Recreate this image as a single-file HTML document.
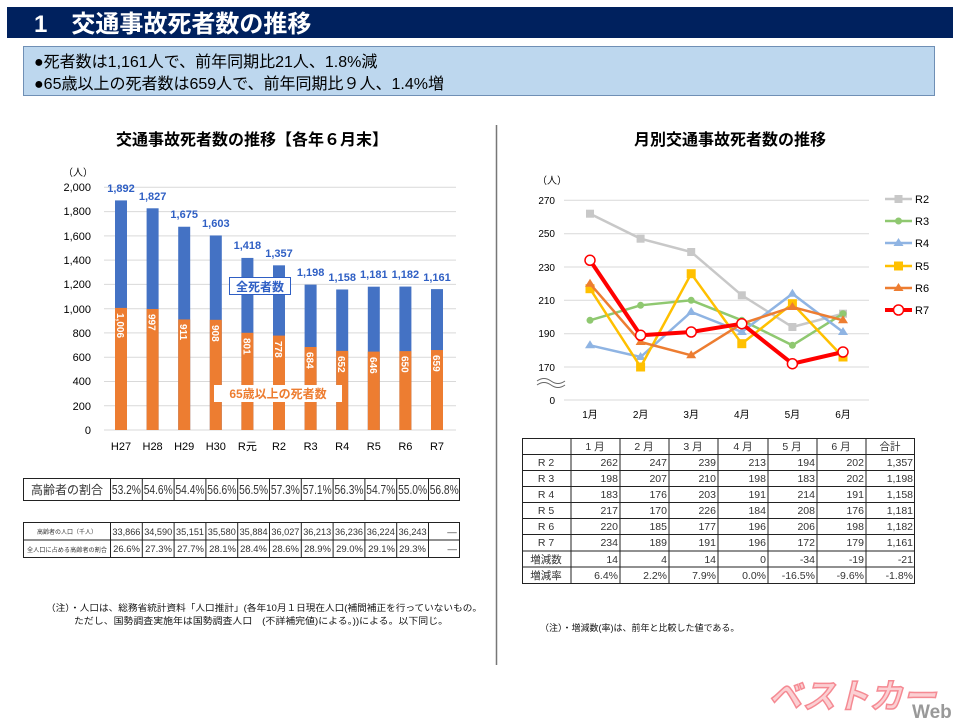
<!DOCTYPE html>
<html><head><meta charset="utf-8"><style>
body{margin:0;width:960px;height:723px;background:#fff;overflow:hidden;font-family:"Liberation Sans","Noto Sans CJK JP",sans-serif}
svg{position:absolute;left:0;top:0}
text{font-family:"Liberation Sans","Noto Sans CJK JP",sans-serif}
</style></head><body>
<svg width="960" height="723" viewBox="0 0 960 723">
<rect x="7" y="7" width="946" height="31" fill="#00215e"/>
<text x="34" y="32" font-size="24" font-weight="bold" fill="#fff">1　交通事故死者数の推移</text>
<rect x="23.5" y="46.5" width="911" height="49" fill="#bdd7ee" stroke="#6f8fb5"/>
<text x="34" y="67" font-size="16" fill="#000">●死者数は1,161人で、前年同期比21人、1.8%減</text>
<text x="34" y="89" font-size="16" fill="#000">●65歳以上の死者数は659人で、前年同期比９人、1.4%増</text>
<line x1="496.5" y1="125" x2="496.5" y2="665" stroke="#777" stroke-width="1.5"/>

<text x="252" y="145" font-size="16" font-weight="bold" text-anchor="middle">交通事故死者数の推移【各年６月末】</text>
<text x="63" y="176" font-size="10">（人）</text>
<g stroke="#d9d9d9" stroke-width="1">
<line x1="104" y1="187.3" x2="456" y2="187.3"/><line x1="104" y1="211.6" x2="456" y2="211.6"/><line x1="104" y1="235.9" x2="456" y2="235.9"/><line x1="104" y1="260.1" x2="456" y2="260.1"/><line x1="104" y1="284.4" x2="456" y2="284.4"/><line x1="104" y1="308.7" x2="456" y2="308.7"/><line x1="104" y1="332.9" x2="456" y2="332.9"/><line x1="104" y1="357.2" x2="456" y2="357.2"/><line x1="104" y1="381.5" x2="456" y2="381.5"/><line x1="104" y1="405.7" x2="456" y2="405.7"/><line x1="104" y1="430" x2="456" y2="430"/>
</g>
<g font-size="11" text-anchor="end" fill="#000">
<text x="91" y="191">2,000</text><text x="91" y="215">1,800</text><text x="91" y="240">1,600</text><text x="91" y="264">1,400</text><text x="91" y="288">1,200</text><text x="91" y="313">1,000</text><text x="91" y="337">800</text><text x="91" y="361">600</text><text x="91" y="385">400</text><text x="91" y="410">200</text><text x="91" y="434">0</text>
</g>
<g transform="translate(0,430) scale(1,-0.12135)">
<g fill="#4472c4">
<rect x="115" y="0" width="12" height="1892"/><rect x="146.6" y="0" width="12" height="1827"/><rect x="178.2" y="0" width="12" height="1675"/><rect x="209.8" y="0" width="12" height="1603"/><rect x="241.4" y="0" width="12" height="1418"/><rect x="273" y="0" width="12" height="1357"/><rect x="304.6" y="0" width="12" height="1198"/><rect x="336.2" y="0" width="12" height="1158"/><rect x="367.8" y="0" width="12" height="1181"/><rect x="399.4" y="0" width="12" height="1182"/><rect x="431" y="0" width="12" height="1161"/>
</g>
<g fill="#ed7d31">
<rect x="115" y="0" width="12" height="1006"/><rect x="146.6" y="0" width="12" height="997"/><rect x="178.2" y="0" width="12" height="911"/><rect x="209.8" y="0" width="12" height="908"/><rect x="241.4" y="0" width="12" height="801"/><rect x="273" y="0" width="12" height="778"/><rect x="304.6" y="0" width="12" height="684"/><rect x="336.2" y="0" width="12" height="652"/><rect x="367.8" y="0" width="12" height="646"/><rect x="399.4" y="0" width="12" height="650"/><rect x="431" y="0" width="12" height="659"/>
</g></g>
<g font-size="11" font-weight="bold" fill="#2f5fc4" text-anchor="middle">
<text x="121" y="192">1,892</text><text x="152.6" y="200">1,827</text><text x="184.2" y="218">1,675</text><text x="215.8" y="227">1,603</text><text x="247.4" y="249">1,418</text><text x="279" y="257">1,357</text><text x="310.6" y="276">1,198</text><text x="342.2" y="281">1,158</text><text x="373.8" y="278">1,181</text><text x="405.4" y="278">1,182</text><text x="437" y="281">1,161</text>
</g>
<g font-size="10" font-weight="bold" fill="#fff">
<text transform="translate(117,313) rotate(90)">1,006</text><text transform="translate(148.6,314) rotate(90)">997</text><text transform="translate(180.2,324) rotate(90)">911</text><text transform="translate(211.8,325) rotate(90)">908</text><text transform="translate(243.4,338) rotate(90)">801</text><text transform="translate(275,341) rotate(90)">778</text><text transform="translate(306.6,352) rotate(90)">684</text><text transform="translate(338.2,356) rotate(90)">652</text><text transform="translate(369.8,357) rotate(90)">646</text><text transform="translate(401.4,356) rotate(90)">650</text><text transform="translate(433,355) rotate(90)">659</text>
</g>
<rect x="229.5" y="277.5" width="61" height="17" fill="#fff" stroke="#2f5fc4"/>
<text x="260" y="291" font-size="12" font-weight="bold" fill="#2f5fc4" text-anchor="middle">全死者数</text>
<rect x="214" y="385" width="128" height="17" fill="#fff"/>
<text x="278" y="398" font-size="12" font-weight="bold" fill="#ed7d31" text-anchor="middle">65歳以上の死者数</text>
<g font-size="11" text-anchor="middle">
<text x="121" y="450">H27</text><text x="152.6" y="450">H28</text><text x="184.2" y="450">H29</text><text x="215.8" y="450">H30</text><text x="247.4" y="450">R元</text><text x="279" y="450">R2</text><text x="310.6" y="450">R3</text><text x="342.2" y="450">R4</text><text x="373.8" y="450">R5</text><text x="405.4" y="450">R6</text><text x="437" y="450">R7</text>
</g>

<g stroke="#222" fill="none" stroke-width="1">
<rect x="23.5" y="478.5" width="436" height="22"/>
<line x1="110.5" y1="478" x2="110.5" y2="501"/><line x1="142.3" y1="478" x2="142.3" y2="501"/><line x1="174.1" y1="478" x2="174.1" y2="501"/><line x1="205.9" y1="478" x2="205.9" y2="501"/><line x1="237.7" y1="478" x2="237.7" y2="501"/><line x1="269.5" y1="478" x2="269.5" y2="501"/><line x1="301.3" y1="478" x2="301.3" y2="501"/><line x1="333.1" y1="478" x2="333.1" y2="501"/><line x1="364.9" y1="478" x2="364.9" y2="501"/><line x1="396.7" y1="478" x2="396.7" y2="501"/><line x1="428.5" y1="478" x2="428.5" y2="501"/>
</g>
<text x="67" y="494" font-size="12" text-anchor="middle" fill="#333">高齢者の割合</text>
<g font-size="12.5" text-anchor="middle" fill="#333">
<text x="126.4" y="494" textLength="29" lengthAdjust="spacingAndGlyphs">53.2%</text><text x="158.2" y="494" textLength="29" lengthAdjust="spacingAndGlyphs">54.6%</text><text x="190" y="494" textLength="29" lengthAdjust="spacingAndGlyphs">54.4%</text><text x="221.8" y="494" textLength="29" lengthAdjust="spacingAndGlyphs">56.6%</text><text x="253.6" y="494" textLength="29" lengthAdjust="spacingAndGlyphs">56.5%</text><text x="285.4" y="494" textLength="29" lengthAdjust="spacingAndGlyphs">57.3%</text><text x="317.2" y="494" textLength="29" lengthAdjust="spacingAndGlyphs">57.1%</text><text x="349" y="494" textLength="29" lengthAdjust="spacingAndGlyphs">56.3%</text><text x="380.8" y="494" textLength="29" lengthAdjust="spacingAndGlyphs">54.7%</text><text x="412.6" y="494" textLength="29" lengthAdjust="spacingAndGlyphs">55.0%</text><text x="444.2" y="494" textLength="29" lengthAdjust="spacingAndGlyphs">56.8%</text>
</g>
<g stroke="#222" fill="none" stroke-width="1">
<rect x="23.5" y="522.5" width="436" height="35"/>
<line x1="23" y1="540" x2="460" y2="540"/>
<line x1="110.5" y1="522" x2="110.5" y2="558"/><line x1="142.3" y1="522" x2="142.3" y2="558"/><line x1="174.1" y1="522" x2="174.1" y2="558"/><line x1="205.9" y1="522" x2="205.9" y2="558"/><line x1="237.7" y1="522" x2="237.7" y2="558"/><line x1="269.5" y1="522" x2="269.5" y2="558"/><line x1="301.3" y1="522" x2="301.3" y2="558"/><line x1="333.1" y1="522" x2="333.1" y2="558"/><line x1="364.9" y1="522" x2="364.9" y2="558"/><line x1="396.7" y1="522" x2="396.7" y2="558"/><line x1="428.5" y1="522" x2="428.5" y2="558"/>
</g>
<text x="67" y="534" font-size="6" text-anchor="middle" fill="#333">高齢者の人口（千人）</text>
<text x="67" y="552" font-size="6" text-anchor="middle" fill="#333" textLength="80" lengthAdjust="spacingAndGlyphs">全人口に占める高齢者の割合</text>
<g font-size="9.5" text-anchor="middle" fill="#333">
<text x="126.4" y="535" textLength="28" lengthAdjust="spacingAndGlyphs">33,866</text><text x="158.2" y="535" textLength="28" lengthAdjust="spacingAndGlyphs">34,590</text><text x="190" y="535" textLength="28" lengthAdjust="spacingAndGlyphs">35,151</text><text x="221.8" y="535" textLength="28" lengthAdjust="spacingAndGlyphs">35,580</text><text x="253.6" y="535" textLength="28" lengthAdjust="spacingAndGlyphs">35,884</text><text x="285.4" y="535" textLength="28" lengthAdjust="spacingAndGlyphs">36,027</text><text x="317.2" y="535" textLength="28" lengthAdjust="spacingAndGlyphs">36,213</text><text x="349" y="535" textLength="28" lengthAdjust="spacingAndGlyphs">36,236</text><text x="380.8" y="535" textLength="28" lengthAdjust="spacingAndGlyphs">36,224</text><text x="412.6" y="535" textLength="28" lengthAdjust="spacingAndGlyphs">36,243</text><text x="452" y="535">―</text>
</g>
<g font-size="9.5" text-anchor="end" fill="#333">
<text x="140" y="552">26.6%</text><text x="172" y="552">27.3%</text><text x="204" y="552">27.7%</text><text x="236" y="552">28.1%</text><text x="267" y="552">28.4%</text><text x="299" y="552">28.6%</text><text x="331" y="552">28.9%</text><text x="363" y="552">29.0%</text><text x="395" y="552">29.1%</text><text x="426" y="552">29.3%</text><text x="457" y="552">―</text>
</g>
<text x="46" y="611" font-size="9" fill="#111" textLength="436" lengthAdjust="spacingAndGlyphs">（注）・人口は、総務省統計資料「人口推計」(各年10月１日現在人口(補間補正を行っていないもの。</text>
<text x="74" y="624" font-size="9" fill="#111" textLength="374" lengthAdjust="spacingAndGlyphs">ただし、国勢調査実施年は国勢調査人口　(不詳補完値)による。))による。以下同じ。</text>

<text x="730" y="145" font-size="16" font-weight="bold" text-anchor="middle">月別交通事故死者数の推移</text>
<text x="537" y="184" font-size="10">（人）</text>
<g stroke="#d9d9d9">
<line x1="564" y1="200.3" x2="869" y2="200.3"/><line x1="564" y1="233.7" x2="869" y2="233.7"/><line x1="564" y1="267" x2="869" y2="267"/><line x1="564" y1="300.3" x2="869" y2="300.3"/><line x1="564" y1="333.7" x2="869" y2="333.7"/><line x1="564" y1="367" x2="869" y2="367"/><line x1="564" y1="400" x2="869" y2="400"/>
</g>
<g font-size="10" text-anchor="end">
<text x="555" y="204">270</text><text x="555" y="237">250</text><text x="555" y="271">230</text><text x="555" y="304">210</text><text x="555" y="337">190</text><text x="555" y="371">170</text><text x="555" y="404">0</text>
</g>
<path d="M537 381 q7 -5 14 0 t14 0 M537 385 q7 -5 14 0 t14 0" stroke="#666" fill="none"/>
<g font-size="10" text-anchor="middle">
<text x="590" y="418">1月</text><text x="640.6" y="418">2月</text><text x="691.2" y="418">3月</text><text x="741.8" y="418">4月</text><text x="792.4" y="418">5月</text><text x="843" y="418">6月</text>
</g>
<polyline points="590,213.7 640.6,238.7 691.2,252 741.8,295.3 792.4,327 843,313.7" fill="none" stroke="#c8c8c8" stroke-width="2.5"/>
<g fill="#c8c8c8"><rect x="586" y="209.7" width="8" height="8"/><rect x="636.6" y="234.7" width="8" height="8"/><rect x="687.2" y="248" width="8" height="8"/><rect x="737.8" y="291.3" width="8" height="8"/><rect x="788.4" y="323" width="8" height="8"/><rect x="839" y="309.7" width="8" height="8"/></g>
<polyline points="590,320.3 640.6,305.3 691.2,300.3 741.8,320.3 792.4,345.3 843,313.7" fill="none" stroke="#8fc870" stroke-width="2.5"/>
<g fill="#8fc870"><circle cx="590" cy="320.3" r="3.5"/><circle cx="640.6" cy="305.3" r="3.5"/><circle cx="691.2" cy="300.3" r="3.5"/><circle cx="741.8" cy="320.3" r="3.5"/><circle cx="792.4" cy="345.3" r="3.5"/><circle cx="843" cy="313.7" r="3.5"/></g>
<polyline points="590,345.3 640.6,357 691.2,312 741.8,332 792.4,293.7 843,332" fill="none" stroke="#8fb4e3" stroke-width="2.5"/>
<g fill="#8fb4e3"><path d="M590 340.3l5 8h-10z"/><path d="M640.6 352l5 8h-10z"/><path d="M691.2 307l5 8h-10z"/><path d="M741.8 327l5 8h-10z"/><path d="M792.4 288.7l5 8h-10z"/><path d="M843 327l5 8h-10z"/></g>
<polyline points="590,288.7 640.6,367 691.2,273.7 741.8,343.7 792.4,303.7 843,357" fill="none" stroke="#ffc000" stroke-width="2.5"/>
<g fill="#ffc000"><rect x="585.5" y="284.2" width="9" height="9"/><rect x="636.1" y="362.5" width="9" height="9"/><rect x="686.7" y="269.2" width="9" height="9"/><rect x="737.3" y="339.2" width="9" height="9"/><rect x="787.9" y="299.2" width="9" height="9"/><rect x="838.5" y="352.5" width="9" height="9"/></g>
<polyline points="590,283.7 640.6,342 691.2,355.3 741.8,323.7 792.4,307 843,320.3" fill="none" stroke="#ed7d31" stroke-width="2.5"/>
<g fill="#ed7d31"><path d="M590 278.7l5 8h-10z"/><path d="M640.6 337l5 8h-10z"/><path d="M691.2 350.3l5 8h-10z"/><path d="M741.8 318.7l5 8h-10z"/><path d="M792.4 302l5 8h-10z"/><path d="M843 315.3l5 8h-10z"/></g>
<polyline points="590,260.3 640.6,335.3 691.2,332 741.8,323.7 792.4,363.7 843,352" fill="none" stroke="#ff0000" stroke-width="4"/>
<g fill="#fff" stroke="#ff0000" stroke-width="1.5"><circle cx="590" cy="260.3" r="5"/><circle cx="640.6" cy="335.3" r="5"/><circle cx="691.2" cy="332" r="5"/><circle cx="741.8" cy="323.7" r="5"/><circle cx="792.4" cy="363.7" r="5"/><circle cx="843" cy="352" r="5"/></g>
<g font-size="11">
<line x1="885" y1="199" x2="912" y2="199" stroke="#c8c8c8" stroke-width="2.5"/><rect x="894.5" y="195" width="8" height="8" fill="#c8c8c8"/><text x="915" y="203">R2</text>
<line x1="885" y1="221" x2="912" y2="221" stroke="#8fc870" stroke-width="2.5"/><circle cx="898.5" cy="221" r="3.5" fill="#8fc870"/><text x="915" y="225">R3</text>
<line x1="885" y1="243" x2="912" y2="243" stroke="#8fb4e3" stroke-width="2.5"/><path d="M898.5 238l5 8h-10z" fill="#8fb4e3"/><text x="915" y="247">R4</text>
<line x1="885" y1="266" x2="912" y2="266" stroke="#ffc000" stroke-width="2.5"/><rect x="894" y="261.5" width="9" height="9" fill="#ffc000"/><text x="915" y="270">R5</text>
<line x1="885" y1="288" x2="912" y2="288" stroke="#ed7d31" stroke-width="2.5"/><path d="M898.5 283l5 8h-10z" fill="#ed7d31"/><text x="915" y="292">R6</text>
<line x1="885" y1="310" x2="912" y2="310" stroke="#ff0000" stroke-width="4"/><circle cx="898.5" cy="310" r="5" fill="#fff" stroke="#f00" stroke-width="1.5"/><text x="915" y="314">R7</text>
</g>

<g stroke="#222" fill="none" stroke-width="1">
<rect x="522.5" y="438.5" width="392" height="145"/>
<line x1="522" y1="454.5" x2="915" y2="454.5"/><line x1="522" y1="470.5" x2="915" y2="470.5"/><line x1="522" y1="486.5" x2="915" y2="486.5"/><line x1="522" y1="502.5" x2="915" y2="502.5"/><line x1="522" y1="518.5" x2="915" y2="518.5"/><line x1="522" y1="534.5" x2="915" y2="534.5"/><line x1="522" y1="551" x2="915" y2="551"/><line x1="522" y1="567" x2="915" y2="567"/>
<line x1="571" y1="438" x2="571" y2="584"/><line x1="620" y1="438" x2="620" y2="584"/><line x1="669" y1="438" x2="669" y2="584"/><line x1="718" y1="438" x2="718" y2="584"/><line x1="768" y1="438" x2="768" y2="584"/><line x1="817" y1="438" x2="817" y2="584"/><line x1="866" y1="438" x2="866" y2="584"/>
</g>
<g font-size="10.5" fill="#333" text-anchor="middle">
<text x="595" y="450">1 月</text><text x="644" y="450">2 月</text><text x="693" y="450">3 月</text><text x="743" y="450">4 月</text><text x="792" y="450">5 月</text><text x="841" y="450">6 月</text><text x="890" y="450">合計</text>
<text x="546" y="466">R 2</text><text x="546" y="482">R 3</text><text x="546" y="498">R 4</text><text x="546" y="514">R 5</text><text x="546" y="530">R 6</text><text x="546" y="546">R 7</text><text x="546" y="563">増減数</text><text x="546" y="579">増減率</text>
</g>
<g font-size="10.5" fill="#333" text-anchor="end">
<text x="618" y="466">262</text><text x="667" y="466">247</text><text x="716" y="466">239</text><text x="766" y="466">213</text><text x="815" y="466">194</text><text x="864" y="466">202</text><text x="913" y="466">1,357</text>
<text x="618" y="482">198</text><text x="667" y="482">207</text><text x="716" y="482">210</text><text x="766" y="482">198</text><text x="815" y="482">183</text><text x="864" y="482">202</text><text x="913" y="482">1,198</text>
<text x="618" y="498">183</text><text x="667" y="498">176</text><text x="716" y="498">203</text><text x="766" y="498">191</text><text x="815" y="498">214</text><text x="864" y="498">191</text><text x="913" y="498">1,158</text>
<text x="618" y="514">217</text><text x="667" y="514">170</text><text x="716" y="514">226</text><text x="766" y="514">184</text><text x="815" y="514">208</text><text x="864" y="514">176</text><text x="913" y="514">1,181</text>
<text x="618" y="530">220</text><text x="667" y="530">185</text><text x="716" y="530">177</text><text x="766" y="530">196</text><text x="815" y="530">206</text><text x="864" y="530">198</text><text x="913" y="530">1,182</text>
<text x="618" y="546">234</text><text x="667" y="546">189</text><text x="716" y="546">191</text><text x="766" y="546">196</text><text x="815" y="546">172</text><text x="864" y="546">179</text><text x="913" y="546">1,161</text>
<text x="618" y="563">14</text><text x="667" y="563">4</text><text x="716" y="563">14</text><text x="766" y="563">0</text><text x="815" y="563">-34</text><text x="864" y="563">-19</text><text x="913" y="563">-21</text>
<text x="618" y="579">6.4%</text><text x="667" y="579">2.2%</text><text x="716" y="579">7.9%</text><text x="766" y="579">0.0%</text><text x="815" y="579">-16.5%</text><text x="864" y="579">-9.6%</text><text x="913" y="579">-1.8%</text>
</g>
<text x="540" y="631" font-size="9" fill="#111">（注）・増減数(率)は、前年と比較した値である。</text>

<text x="768" y="708" font-size="34" font-weight="bold" font-style="italic" fill="#fbd0d3" stroke="#f58a93" stroke-width="1.5" textLength="168" lengthAdjust="spacingAndGlyphs">ベストカー</text>
<text x="912" y="718" font-size="19" font-weight="bold" fill="#999">Web</text>
</svg>
</body></html>
